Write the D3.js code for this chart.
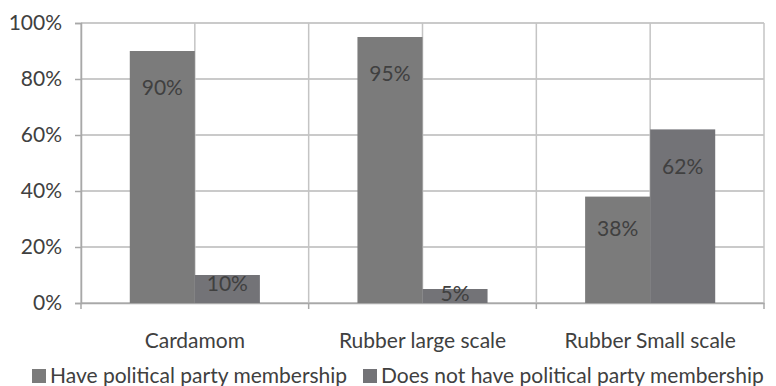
<!DOCTYPE html>
<html><head><meta charset="utf-8">
<script src="https://cdn.jsdelivr.net/npm/d3@7"></script>
<style>
body{margin:0;background:#fff;}
text{font-family:Lato,"Open Sans",sans-serif;fill:#404040;}
</style></head>
<body><svg id="c" width="776" height="386"></svg>
<script>
const categories = ["Cardamom", "Rubber large scale", "Rubber Small scale"];
const seriesNames = ["Have political party membership", "Does not have political party membership"];
const haveMembership = [90, 95, 38];
const noMembership = [10, 5, 62];
const yTicks = [0, 20, 40, 60, 80, 100];
const colors = ["#7b7b7b", "#737377"];

const svg = d3.select("#c");
const mLeft = 81, mRight = 764, mTop = 23, mBottom = 303;
const FS = 21;
const x = d3.scaleBand().domain(categories).range([mLeft, mRight]).paddingInner(0).paddingOuter(0);
const xs = d3.scaleBand().domain([0, 1]).range([0, x.bandwidth()]).paddingInner(0).paddingOuter(0.75);
const y = d3.scaleLinear().domain([0, 100]).range([mBottom, mTop]);

// horizontal gridlines
svg.append("g").selectAll("line").data(yTicks).join("line")
  .attr("x1", mLeft).attr("x2", mRight).attr("y1", d => y(d)).attr("y2", d => y(d))
  .attr("stroke", "#b8b8b8").attr("stroke-width", 1.5);
// vertical gridlines at half categories
const vLines = [];
categories.forEach(c => { vLines.push(x(c)); vLines.push(x(c) + x.bandwidth() / 2); });
vLines.push(mRight);
svg.append("g").selectAll("line").data(vLines).join("line")
  .attr("x1", d => d).attr("x2", d => d).attr("y1", mTop).attr("y2", mBottom)
  .attr("stroke", "#c4c4c4").attr("stroke-width", 1.5);

// y axis
const yAxis = d3.axisLeft(y).tickValues(yTicks).tickFormat(d => d + "%").tickSize(6).tickPadding(13);
const ga = svg.append("g").attr("transform", `translate(${mLeft},0)`).call(yAxis);
ga.select(".domain").attr("stroke", "#a8a8a8").attr("stroke-width", 1.5);
ga.selectAll(".tick line").attr("stroke", "#a8a8a8").attr("stroke-width", 1.5);
ga.selectAll(".tick text").attr("font-size", FS).style("font-family", "Lato").attr("fill", "#404040");

// x axis
const xAxis = d3.axisBottom(x).tickSize(0).tickPadding(30);
const gx = svg.append("g").attr("transform", `translate(0,${mBottom})`).call(xAxis);
gx.select(".domain").attr("stroke", "#a8a8a8").attr("stroke-width", 1.5);
gx.selectAll(".tick text").attr("font-size", FS).style("font-family", "Lato").attr("fill", "#404040");
svg.append("g").selectAll("line").data(categories.map(c => x(c)).concat([mRight])).join("line")
  .attr("x1", d => d).attr("x2", d => d).attr("y1", mBottom).attr("y2", mBottom + 6)
  .attr("stroke", "#a8a8a8").attr("stroke-width", 1.5);

// bars
const series = [haveMembership, noMembership];
series.forEach((vals, si) => {
  const g = svg.append("g");
  g.selectAll("rect").data(vals).join("rect")
    .attr("x", (d, i) => x(categories[i]) + xs(si))
    .attr("width", xs.bandwidth())
    .attr("y", d => y(d))
    .attr("height", d => y(0) - y(d))
    .attr("fill", colors[si]);
  g.selectAll("text").data(vals).join("text")
    .attr("x", (d, i) => x(categories[i]) + xs(si) + xs.bandwidth() / 2)
    .attr("y", d => y(d) + Math.min(37, (y(0) - y(d)) * 0.3))
    .attr("dy", "0.35em")
    .attr("text-anchor", "middle")
    .attr("font-size", FS)
    .attr("fill", "#3a3a3a")
    .text(d => d + "%");
});

// legend
const leg = svg.append("g").attr("transform", "translate(32,369)");
const legX = [0, 331];
seriesNames.forEach((n, i) => {
  leg.append("rect").attr("x", legX[i]).attr("y", 0).attr("width", 14).attr("height", 14).attr("fill", colors[i]);
  leg.append("text").attr("x", legX[i] + 18).attr("y", 7).attr("dy", "0.35em").attr("font-size", FS).text(n);
});
</script></body></html>
